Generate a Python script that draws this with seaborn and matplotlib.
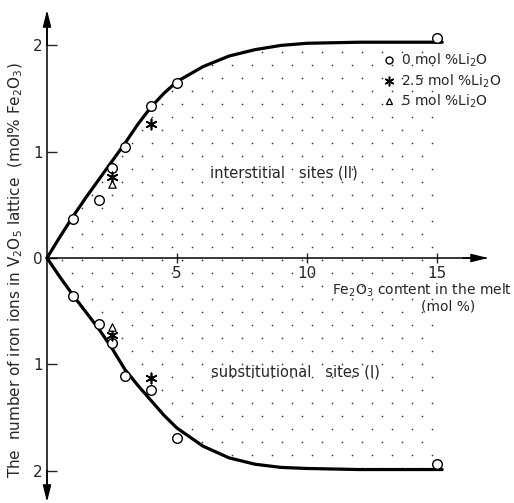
import matplotlib
matplotlib.use("Agg")
import matplotlib.pyplot as plt
from matplotlib.lines import Line2D
from matplotlib.ticker import FuncFormatter
import seaborn as sns
import pandas as pd
import numpy as np

# ---------------- data ----------------
curve_x = [0, 0.5, 1, 1.5, 2, 2.5, 3, 3.5, 4, 4.5, 5, 6, 7, 8, 9, 10, 12, 15.2]
upper_curve = [0, 0.20, 0.39, 0.57, 0.74, 0.91, 1.08, 1.26, 1.42, 1.55, 1.66,
               1.80, 1.90, 1.96, 2.00, 2.02, 2.03, 2.03]
lower_curve = [0, -0.18, -0.35, -0.51, -0.67, -0.85, -1.05, -1.20, -1.34, -1.48,
               -1.60, -1.77, -1.88, -1.94, -1.97, -1.98, -1.99, -1.99]

# 0 mol% Li2O (circles): interstitial (upper) and substitutional (lower)
li0_x_up = [1, 2, 2.5, 3, 4, 5, 15]
li0_y_up = [0.37, 0.55, 0.85, 1.04, 1.43, 1.65, 2.07]
li0_x_lo = [1, 2, 2.5, 3, 4, 5, 15]
li0_y_lo = [-0.36, -0.62, -0.80, -1.11, -1.24, -1.69, -1.94]

# 2.5 mol% Li2O (asterisks)
li25_x = [2.5, 4, 2.5, 4]
li25_y = [0.76, 1.26, -0.72, -1.13]

# 5 mol% Li2O (triangles)
li5_x = [2.5, 2.5]
li5_y = [0.70, -0.65]

x_ticks = [5, 10, 15]
y_ticks = [-2, -1, 0, 1, 2]
legend_labels = ["0 mol %Li$_2$O", "2.5 mol %Li$_2$O", "5 mol %Li$_2$O"]

# ---------------- figure ----------------
sns.set_style("white")
plt.rcParams["font.family"] = ["DejaVu Sans"]

W, H = 514, 503
fig = plt.figure(figsize=(W / 100, H / 100), dpi=100)
ax = fig.add_axes([0, 0, 1, 1])

X0, Y0 = 47, 258          # pixel position of origin
SX, SY = 26.0, 106.3      # pixels per unit
ax.set_xlim(-X0 / SX, (W - X0) / SX)
ax.set_ylim(-(H - Y0) / SY, Y0 / SY)

# region between the curves (used as clip for the stipple texture)
region = ax.fill_between(curve_x, lower_curve, upper_curve, facecolor="none",
                         linewidth=0)

# stipple texture: staggered grid of tiny dots, clipped to the region
dx, dy = 20 / SX, 13 / SY
rows = np.arange(-2.1, 2.1, dy)
gx, gy = [], []
for i, yy in enumerate(rows):
    xs = np.arange(0.2 + (dx / 2 if i % 2 else 0), 15.15, dx)
    gx.extend(xs)
    gy.extend([yy] * len(xs))
stip = ax.scatter(gx, gy, s=1.5, color="#3a3a3a", linewidths=0, zorder=1)
stip.set_clip_path(region.get_paths()[0], ax.transData)

curves = pd.DataFrame({"x": curve_x + curve_x,
                       "y": upper_curve + lower_curve,
                       "part": ["II"] * len(curve_x) + ["I"] * len(curve_x)})
sns.lineplot(data=curves, x="x", y="y", units="part", estimator=None,
             color="black", linewidth=2.3, sort=False, ax=ax, legend=False)

pts0 = pd.DataFrame({"x": li0_x_up + li0_x_lo, "y": li0_y_up + li0_y_lo})
sns.scatterplot(data=pts0, x="x", y="y", marker="o", s=48, facecolors="white",
                edgecolors="black", linewidths=1.0, ax=ax, zorder=5)
pts25 = pd.DataFrame({"x": li25_x, "y": li25_y})
sns.scatterplot(data=pts25, x="x", y="y", marker=(6, 2, 0), s=55, color="black",
                linewidths=1.2, ax=ax, zorder=5)
pts5 = pd.DataFrame({"x": li5_x, "y": li5_y})
sns.scatterplot(data=pts5, x="x", y="y", marker="^", s=28, facecolors="white",
                edgecolors="black", linewidths=0.9, ax=ax, zorder=6)

# axes as arrows through the origin
for s in ["top", "right"]:
    ax.spines[s].set_visible(False)
ax.spines["left"].set_position(("data", 0))
ax.spines["bottom"].set_position(("data", 0))
ax.spines["left"].set_bounds(-2.25, 2.3)
ax.spines["bottom"].set_bounds(0, 16.9)
for s in ["left", "bottom"]:
    ax.spines[s].set_linewidth(1.1)
    ax.spines[s].set_color("black")

ap = dict(arrowstyle="-|>,head_length=1.0,head_width=0.25", color="black",
          lw=1.1, shrinkA=0, shrinkB=0)
ax.annotate("", xy=(0, (Y0 - 10) / SY), xytext=(0, 2.0), arrowprops=ap)
ax.annotate("", xy=(0, -(502 - Y0) / SY), xytext=(0, -2.0), arrowprops=ap)
ax.annotate("", xy=((488 - X0) / SX, 0), xytext=(16.0, 0), arrowprops=ap)

ax.set_xticks(x_ticks)
ax.set_yticks(y_ticks)
ax.yaxis.set_major_formatter(FuncFormatter(lambda v, p: f"{abs(v):g}"))
ax.tick_params(axis="y", direction="in", length=7, width=1, pad=3,
               labelsize=11, left=True)
ax.tick_params(axis="x", direction="inout", length=7, width=1, pad=2,
               labelsize=11, bottom=True)
ax.set_xlabel("")
ax.set_ylabel("")

# texts
ax.text(9.1, 0.80, "interstitial   sites (II)", ha="center", va="center",
        fontsize=10.5)
ax.text(9.56, -1.075, "substitutional   sites (I)", ha="center", va="center",
        fontsize=10.5)
fig.text(512 / W, 1 - 290 / H, "Fe$_2$O$_3$ content in the melt", ha="right",
         va="center", fontsize=10)
fig.text(448 / W, 1 - 307 / H, "(mol %)", ha="center", va="center", fontsize=10)
fig.text(16 / W, 1 - 270 / H,
         "The  number of iron ions in V$_2$O$_5$ lattice  (mol% Fe$_2$O$_3$)",
         rotation=90, ha="center", va="center", fontsize=11)

handles = [
    Line2D([], [], linestyle="none", marker="o", markersize=5,
           markerfacecolor="white", markeredgecolor="black", markeredgewidth=1),
    Line2D([], [], linestyle="none", marker=(6, 2, 0), markersize=7,
           color="black", markeredgewidth=1.1),
    Line2D([], [], linestyle="none", marker="^", markersize=5,
           markerfacecolor="white", markeredgecolor="black", markeredgewidth=0.9),
]
ax.legend(handles, legend_labels, loc="upper left",
          bbox_to_anchor=(383 / W, 1 - 52 / H), bbox_transform=fig.transFigure,
          frameon=False, handlelength=0.8, handletextpad=0.5, labelspacing=0.22,
          borderpad=0, borderaxespad=0, fontsize=10)

fig.savefig("out.png", dpi=100)
